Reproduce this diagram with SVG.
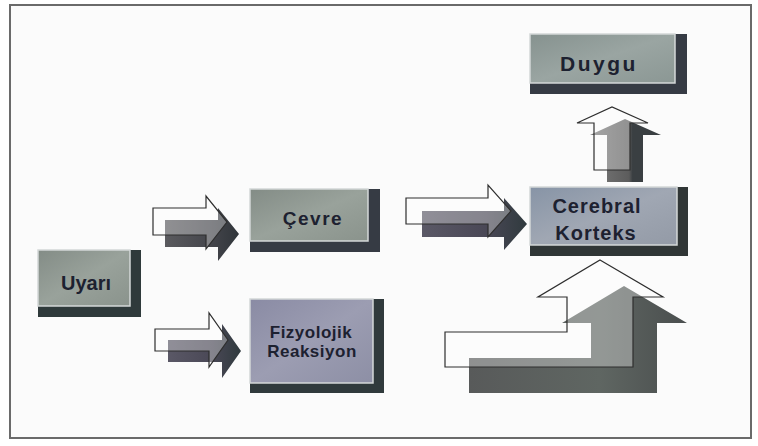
<svg xmlns="http://www.w3.org/2000/svg" width="758" height="446" viewBox="0 0 758 446">
<defs>
<style>
.lbl{font-family:"Liberation Sans",Arial,sans-serif;font-weight:bold;fill:#1d2130;text-anchor:middle}
.sh{fill:#363b44}
.face{stroke:#d4d8d8;stroke-width:1.5}
.wa{fill:#ffffff;fill-opacity:0.33;stroke:#2e2e2e;stroke-width:1.2;stroke-linejoin:miter}
</style>
<linearGradient id="gGreen" x1="0" y1="0" x2="1" y2="1"><stop offset="0" stop-color="#838c86"/><stop offset="0.5" stop-color="#99a29b"/><stop offset="1" stop-color="#8a938c"/></linearGradient>
<linearGradient id="gTeal" x1="0" y1="0" x2="1" y2="1"><stop offset="0" stop-color="#86928f"/><stop offset="0.5" stop-color="#9aa5a2"/><stop offset="1" stop-color="#8b9794"/></linearGradient>
<linearGradient id="gLav" x1="0" y1="0" x2="1" y2="1"><stop offset="0" stop-color="#8a8ba4"/><stop offset="0.5" stop-color="#9c9db2"/><stop offset="1" stop-color="#8d8fa5"/></linearGradient>
<linearGradient id="gBlue" x1="0" y1="0" x2="1" y2="1"><stop offset="0" stop-color="#8794a6"/><stop offset="0.5" stop-color="#a0a7b3"/><stop offset="1" stop-color="#939aa6"/></linearGradient>
<linearGradient id="gShH" x1="0" y1="0" x2="1" y2="0"><stop offset="0" stop-color="#5a5a5e"/><stop offset="0.6" stop-color="#45464c"/><stop offset="1" stop-color="#30353a"/></linearGradient>
<linearGradient id="gShM" x1="0" y1="0" x2="1" y2="0"><stop offset="0" stop-color="#5a5866"/><stop offset="0.6" stop-color="#4a4856"/><stop offset="1" stop-color="#303a3e"/></linearGradient>
<linearGradient id="gShU" x1="0" y1="0" x2="1" y2="0"><stop offset="0" stop-color="#7a7a7a"/><stop offset="0.55" stop-color="#5c5c5c"/><stop offset="0.6" stop-color="#3a3f42"/><stop offset="1" stop-color="#3a3f42"/></linearGradient>
<linearGradient id="gShB" x1="0" y1="0" x2="1" y2="0"><stop offset="0" stop-color="#585a5a"/><stop offset="0.6" stop-color="#5f6662"/><stop offset="1" stop-color="#4a4e4e"/></linearGradient>
</defs>
<rect x="0" y="0" width="758" height="446" fill="#ffffff"/>
<rect x="10" y="5" width="741" height="433" fill="#fbfbfb" stroke="#6a6a6a" stroke-width="2"/>

<g id="connectors">
  <g id="arrow-uyari-cevre">
    <path d="M165,220 H218 V208 L239,234 L218,261 V247 H165 Z" fill="url(#gShH)"/>
    <path class="wa" d="M153,208 H206 V196 L227,222 L206,249 V235 H153 Z"/>
  </g>
  <g id="arrow-uyari-fizyolojik">
    <path d="M168,340 H222 V324 L241,351 L222,378 V362 H168 Z" fill="url(#gShM)"/>
    <path class="wa" d="M155,329 H209 V313 L228,340 L209,367 V351 H155 Z"/>
  </g>
  <g id="arrow-cevre-cerebral">
    <path d="M422,211 H504 V198 L527,224 L504,250 V237 H422 Z" fill="url(#gShM)"/>
    <path class="wa" d="M406,198 H488 V185 L511,211 L488,237 V224 H406 Z"/>
  </g>
  <g id="arrow-cerebral-duygu">
    <path d="M607,182 V135 H590 L625,119 L661,135 H643 V182 Z" fill="url(#gShU)"/>
    <path class="wa" d="M594,170 V123 H577 L612,107 L648,123 H630 V170 Z"/>
  </g>
  <g id="arrow-fizyolojik-cerebral">
    <path d="M624,286 L687,323 L657,323 L657,393 L469,393 L469,358 L591,358 L591,323 L562,323 Z" fill="url(#gShB)"/>
    <path class="wa" d="M600,260 L663,297 L633,297 L633,367 L445,367 L445,332 L567,332 L567,297 L538,297 Z"/>
  </g>
</g>

<g id="node-uyari">
  <rect class="sh" x="38" y="250" width="103" height="67" style="fill:#2f3a3b"/>
  <rect class="face" x="38" y="250" width="92" height="56" fill="url(#gGreen)"/>
  <text class="lbl" x="86" y="290" font-size="20">Uyarı</text>
</g>
<g id="node-cevre">
  <rect class="sh" x="250" y="189" width="130" height="63"/>
  <rect class="face" x="250" y="189" width="118" height="52" fill="url(#gGreen)"/>
  <text class="lbl" x="313" y="225" font-size="19" letter-spacing="1.5">Çevre</text>
</g>
<g id="node-fizyolojik">
  <rect class="sh" x="250" y="299" width="134" height="94" style="fill:#303a3c"/>
  <rect class="face" x="250" y="299" width="123" height="84" fill="url(#gLav)"/>
  <text class="lbl" x="311" y="338" font-size="17" letter-spacing="0.5">Fizyolojik</text>
  <text class="lbl" x="312" y="357" font-size="17" letter-spacing="0.5">Reaksiyon</text>
</g>
<g id="node-cerebral">
  <rect class="sh" x="530" y="187" width="158" height="69" style="fill:#303636"/>
  <rect class="face" x="530" y="187" width="147" height="58" fill="url(#gBlue)"/>
  <text class="lbl" x="597" y="213" font-size="20" letter-spacing="1">Cerebral</text>
  <text class="lbl" x="596" y="240" font-size="20" letter-spacing="1">Korteks</text>
</g>
<g id="node-duygu">
  <rect class="sh" x="530" y="34" width="157" height="60"/>
  <rect class="face" x="530" y="34" width="145" height="49" fill="url(#gTeal)"/>
  <text class="lbl" x="599" y="71" font-size="21" letter-spacing="2.5">Duygu</text>
</g>
</svg>
